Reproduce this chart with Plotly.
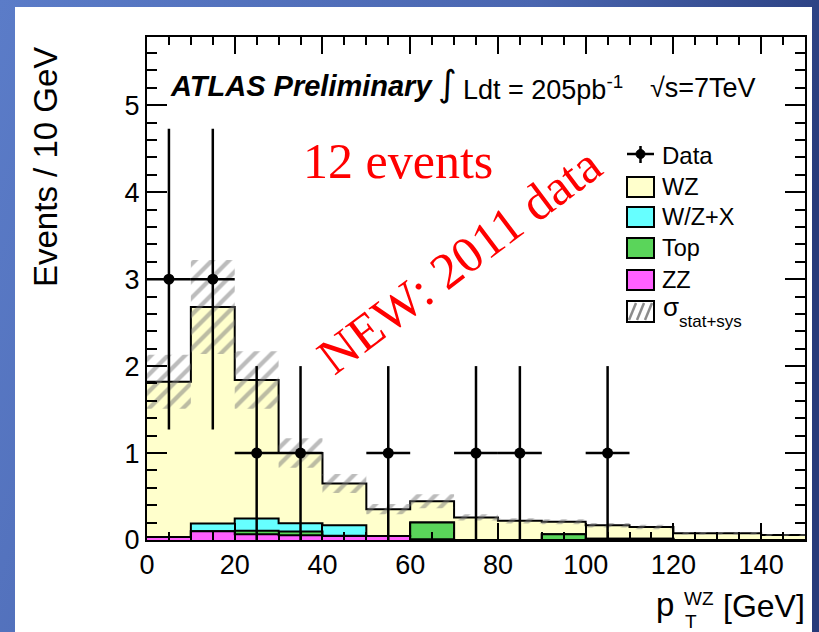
import base64
import plotly.graph_objects as go

# ---------------- data ----------------
bin_edges = [0, 10, 20, 30, 40, 50, 60, 70, 80, 90, 100, 110, 120, 130, 140, 150]
zz  = [0.035, 0.10, 0.065, 0.054, 0.045, 0.045, 0.01, 0.0, 0.0, 0.0, 0.005, 0.005, 0.0, 0.0, 0.0]
top = [0.0, 0.0, 0.04, 0.043, 0.005, 0.0, 0.19, 0.0, 0.0, 0.065, 0.01, 0.01, 0.0, 0.0, 0.0]
wzx = [0.0, 0.09, 0.142, 0.096, 0.12, 0.0, 0.0, 0.0, 0.0, 0.0, 0.0, 0.0, 0.0, 0.0, 0.0]
wz  = [1.785, 2.49, 1.593, 0.807, 0.48, 0.31, 0.245, 0.26, 0.22, 0.145, 0.155, 0.135, 0.078, 0.078, 0.058]
sigma = [0.31, 0.54, 0.33, 0.17, 0.11, 0.06, 0.08, 0.035, 0.03, 0.03, 0.025, 0.025, 0.015, 0.015, 0.012]

data_x = [5, 15, 25, 35, 55, 75, 85, 105]
data_y = [3, 3, 1, 1, 1, 1, 1, 1]
data_err = [1.73, 1.73, 1.0, 1.0, 1.0, 1.0, 1.0, 1.0]
data_xerr = [5, 5, 5, 5, 5, 5, 5, 5]

x_ticks = [0, 20, 40, 60, 80, 100, 120, 140]
y_ticks = [0, 1, 2, 3, 4, 5]

colors = {"WZ": "#ffffcc", "W/Z+X": "#66ffff", "Top": "#5ad55a", "ZZ": "#ff60ff"}

# ---------------- geometry ----------------
W, H = 819, 632
L, R, T, B = 147, 805, 37, 540
def px(x):
    return (x - L) / (R - L)
def py(y):
    return (B - y) / (B - T)

# cumulative stacks
c1 = zz[:]
c2 = [a + b for a, b in zip(c1, top)]
c3 = [a + b for a, b in zip(c2, wzx)]
c4 = [a + b for a, b in zip(c3, wz)]

fig = go.Figure()

def step_trace(vals, color):
    return go.Scatter(x=bin_edges, y=vals + [vals[-1]], mode="lines",
                      line=dict(shape="hv", color="black", width=2),
                      fill="tozeroy", fillcolor=color, showlegend=False,
                      hoverinfo="skip")

fig.add_trace(step_trace(c4, colors["WZ"]))
fig.add_trace(step_trace(c3, colors["W/Z+X"]))
fig.add_trace(step_trace(c2, colors["Top"]))
fig.add_trace(step_trace(c1, colors["ZZ"]))

# uncertainty band polygon (steps)
bx, byv = [], []
for i in range(len(c4)):
    bx += [bin_edges[i], bin_edges[i + 1]]
    byv += [c4[i] + sigma[i], c4[i] + sigma[i]]
for i in reversed(range(len(c4))):
    bx += [bin_edges[i + 1], bin_edges[i]]
    byv += [c4[i] - sigma[i], c4[i] - sigma[i]]
fig.add_trace(go.Scatter(x=bx, y=byv, mode="lines", line=dict(width=0, color="rgba(0,0,0,0)"),
                         fill="toself", fillcolor="rgba(0,0,0,0)",
                         fillpattern=dict(shape="/", fgcolor="#7a7a7a", bgcolor="rgba(0,0,0,0)",
                                          size=12, solidity=0.36, fillmode="overlay"),
                         showlegend=False, hoverinfo="skip"))

# data points
fig.add_trace(go.Scatter(x=data_x, y=data_y, mode="markers",
                         marker=dict(color="black", size=11),
                         error_y=dict(type="data", array=data_err, color="black", thickness=2.5, width=0),
                         error_x=dict(type="data", array=data_xerr, color="black", thickness=2.5, width=0),
                         showlegend=False))

# ---------------- background ----------------
svg = f'''<svg xmlns="http://www.w3.org/2000/svg" width="{W}" height="{H}">
<defs><linearGradient id="g" x1="0" y1="0" x2="1" y2="0.3">
<stop offset="0" stop-color="#5b7cc8"/><stop offset="0.6" stop-color="#4a66b0"/>
<stop offset="1" stop-color="#263a7a"/></linearGradient></defs>
<rect x="0" y="0" width="{W}" height="{H}" fill="url(#g)"/>
<rect x="15" y="7" width="797" height="{H}" fill="white"/>
</svg>'''
src = "data:image/svg+xml;base64," + base64.b64encode(svg.encode()).decode()

sans = "Liberation Sans, Arial, Helvetica, sans-serif"
serif = "Liberation Serif, Times New Roman, serif"

shapes = []
annotations = []

def ann(text, x, y, size, xanchor="left", yanchor="middle", color="black", family=sans, angle=0):
    annotations.append(dict(text=text, x=px(x), y=py(y), xref="paper", yref="paper",
                            xanchor=xanchor, yanchor=yanchor, showarrow=False, textangle=angle,
                            font=dict(size=size, color=color, family=family)))

# header texts
ann("<b><i>ATLAS Preliminary</i></b>", 168, 86, 29)
ann("∫", 436, 84, 36, family="DejaVu Sans")
ann("Ldt = 205pb<sup>-1</sup>", 461, 88, 27)
ann("√s=7TeV", 648, 88, 27)

ann("12 events", 301, 161, 50, color="#ff0000", family=serif)
ann("NEW: 2011 data", 459, 261, 51, xanchor="center", color="#ff0000", family=serif, angle=-37)

# axis titles
ann("Events / 10 GeV", 46, 167, 33, xanchor="center", angle=-90)
ann("p", 654, 604, 33)
ann("WZ", 682, 598, 19)
ann("T", 683, 621, 19)
ann("[GeV]", 721, 606, 32)

# legend
lx0, lx1 = 627, 654
ann("Data", 660, 155, 24)
shapes.append(dict(type="line", xref="paper", yref="paper", x0=px(lx0), x1=px(lx1), y0=py(154), y1=py(154),
                   line=dict(color="black", width=2.5)))
shapes.append(dict(type="line", xref="paper", yref="paper", x0=px(640.5), x1=px(640.5), y0=py(146), y1=py(163),
                   line=dict(color="black", width=2.5)))
shapes.append(dict(type="circle", xref="paper", yref="paper", x0=px(636), x1=px(645), y0=py(149.5), y1=py(158.5),
                   fillcolor="black", line=dict(color="black", width=1)))

leg_items = [("WZ", 187), ("W/Z+X", 217), ("Top", 248), ("ZZ", 280)]
for name, yc in leg_items:
    shapes.append(dict(type="rect", xref="paper", yref="paper", x0=px(lx0), x1=px(lx1),
                       y0=py(yc + 10), y1=py(yc - 10), fillcolor=colors[name],
                       line=dict(color="black", width=2)))
    ann(name, 660, yc, 23.5)

# sigma legend box (hatched)
sy0, sy1 = 301, 322
shapes.append(dict(type="rect", xref="paper", yref="paper", x0=px(lx0), x1=px(lx1),
                   y0=py(sy1), y1=py(sy0), fillcolor="white", line=dict(color="black", width=2)))
for xs in [629, 637, 645]:
    shapes.append(dict(type="line", xref="paper", yref="paper", x0=px(xs), x1=px(xs + 7),
                       y0=py(sy1 - 2), y1=py(sy0 + 2), line=dict(color="#8c8c8c", width=2.5)))
ann("σ", 661, 307, 26)
ann("stat+sys", 677, 321, 17)

fig.update_layout(
    width=W, height=H,
    margin=dict(l=L, r=W - R, t=T, b=H - B, pad=0),
    paper_bgcolor="#4a66b0",
    plot_bgcolor="rgba(0,0,0,0)",
    images=[dict(source=src, xref="paper", yref="paper", x=px(0), y=py(0),
                 sizex=W / (R - L), sizey=H / (B - T), xanchor="left", yanchor="top",
                 sizing="stretch", layer="below")],
    shapes=shapes,
    annotations=annotations,
    showlegend=False,
    xaxis=dict(range=[0, 150], tickvals=x_ticks, ticks="inside", ticklen=17, tickwidth=1.5,
               tickcolor="black", showline=True, linecolor="black", linewidth=2, mirror="allticks",
               showgrid=False, zeroline=False,
               minor=dict(dtick=5, ticks="inside", ticklen=8, tickwidth=1.5, tickcolor="black", showgrid=False),
               tickfont=dict(size=27, family=sans, color="black")),
    yaxis=dict(range=[0, 5.785], tickvals=y_ticks, ticks="inside", ticklen=20, tickwidth=1.5,
               tickcolor="black", showline=True, linecolor="black", linewidth=2, mirror="allticks",
               showgrid=False, zeroline=False,
               minor=dict(dtick=0.2, ticks="inside", ticklen=10, tickwidth=1.5, tickcolor="black", showgrid=False),
               tickfont=dict(size=27, family=sans, color="black")),
)

fig.write_html("out.html")
